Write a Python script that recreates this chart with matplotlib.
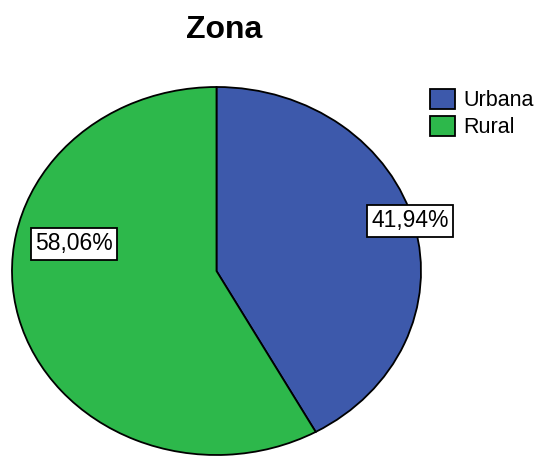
import matplotlib
matplotlib.use("Agg")
import matplotlib.pyplot as plt

plt.rcParams['font.family'] = ['Liberation Sans', 'DejaVu Sans']

# data
categories = ["Urbana", "Rural"]
percentages = [41.94, 58.06]
colors = ["#3D59AB", "#2DB84B"]

# where SPSS put the percentage boxes (axes data coords, pie radius = 1)
label_pos = [(0.946, 0.272), (-0.697, 0.147)]

fig = plt.figure(figsize=(5.39, 4.57), dpi=100)
ax = fig.add_axes([12 / 539, 2 / 457, 409 / 539, 368 / 457])

wedges, texts, autotexts = ax.pie(
    percentages, colors=colors, startangle=90, counterclock=False,
    autopct=lambda p: f"{p:.2f}%".replace(".", ","),
    wedgeprops=dict(edgecolor="black", linewidth=1.3),
    textprops=dict(fontsize=16.5, color="black"),
)
for t, (x, y) in zip(autotexts, label_pos):
    t.set_position((x, y))
    t.set_bbox(dict(boxstyle="square,pad=0.2", facecolor="white",
                    edgecolor="black", linewidth=1.3))

ax.set_aspect("auto")
ax.set_xlim(-1, 1)
ax.set_ylim(-1, 1)

fig.text(224 / 539, 1 - 30 / 457, "Zona", ha="center", va="center",
         fontsize=23, fontweight="bold")

fig.legend(wedges, categories, loc="upper left",
           bbox_to_anchor=(430 / 539, 1 - 89 / 457), frameon=False,
           fontsize=15.5, handlelength=1.15, handleheight=1.05,
           handletextpad=0.4, labelspacing=0.2,
           borderpad=0, borderaxespad=0)

fig.savefig("out.png", dpi=100)
